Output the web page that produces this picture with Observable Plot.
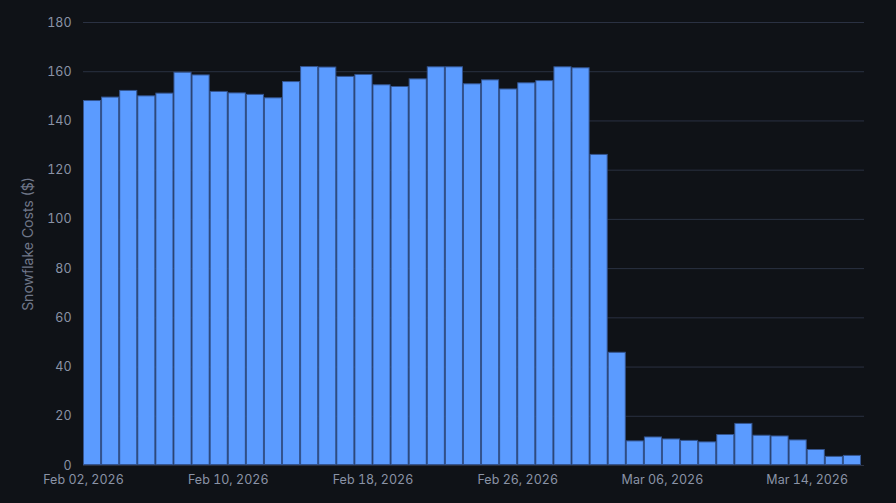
<!DOCTYPE html>
<html>
<head>
<meta charset="utf-8">
<script src="https://cdn.jsdelivr.net/npm/d3@7"></script>
<script src="https://cdn.jsdelivr.net/npm/@observablehq/plot@0.6"></script>
<style>
  html, body { margin: 0; padding: 0; background: #0f1217; }
  #chart { width: 896px; height: 503px; }
</style>
</head>
<body>
<div id="chart"></div>
<script>
const dates = [
  "2026-02-02","2026-02-03","2026-02-04","2026-02-05","2026-02-06","2026-02-07","2026-02-08",
  "2026-02-09","2026-02-10","2026-02-11","2026-02-12","2026-02-13","2026-02-14","2026-02-15",
  "2026-02-16","2026-02-17","2026-02-18","2026-02-19","2026-02-20","2026-02-21","2026-02-22",
  "2026-02-23","2026-02-24","2026-02-25","2026-02-26","2026-02-27","2026-02-28","2026-03-01",
  "2026-03-02","2026-03-03","2026-03-04","2026-03-05","2026-03-06","2026-03-07","2026-03-08",
  "2026-03-09","2026-03-10","2026-03-11","2026-03-12","2026-03-13","2026-03-14","2026-03-15",
  "2026-03-16"
];
const costs = [
  148.3, 149.7, 152.4, 150.2, 151.3, 159.8, 158.7,
  152.0, 151.4, 150.8, 149.4, 156.0, 162.1, 161.9,
  158.1, 158.9, 154.7, 154.0, 157.1, 162.0, 162.0,
  155.1, 156.7, 153.0, 155.5, 156.4, 162.0, 161.6,
  126.4, 46.0, 10.0, 11.6, 10.8, 10.2, 9.6,
  12.6, 17.1, 12.3, 12.0, 10.4, 6.5, 3.7,
  4.1
];
const tickDates = ["2026-02-02","2026-02-10","2026-02-18","2026-02-26","2026-03-06","2026-03-14"];
const yTicks = [0, 20, 40, 60, 80, 100, 120, 140, 160, 180];
const yLabel = "Snowflake Costs ($)";

const data = dates.map((d, i) => ({date: new Date(d + "T00:00:00Z"), cost: costs[i]}));

const chart = Plot.plot({
  width: 896,
  height: 503,
  marginLeft: 83,
  marginRight: 32,
  marginTop: 22,
  marginBottom: 38,
  style: {
    background: "#0f1217",
    color: "#8a93a6",
    fontFamily: "Inter, 'Noto Sans', sans-serif",
    fontSize: "12.5px"
  },
  x: {
    type: "utc",
    domain: [new Date("2026-02-02T00:00:00Z"), new Date("2026-03-17T04:00:00Z")],
    ticks: tickDates.map(d => new Date(d + "T00:00:00Z")),
    tickFormat: d3.utcFormat("%b %d, %Y"),
    tickSize: 0,
    tickPadding: 10,
    label: null
  },
  y: {
    domain: [0, 180],
    ticks: yTicks,
    tickSize: 0,
    tickPadding: 12,
    label: null,
    grid: false
  },
  marks: [
    Plot.ruleY(yTicks, {stroke: "#2a3142", strokeWidth: 1}),
    Plot.rectY(data, {
      x: "date",
      interval: "day",
      y: "cost",
      fill: "#5b9bff",
      stroke: "#34548f",
      strokeWidth: 1,
      inset: 0.5
    }),
    Plot.text([yLabel], {
      frameAnchor: "left",
      textAnchor: "middle",
      rotate: -90,
      dx: -55,
      fontSize: 14,
      fill: "#6f7789"
    })
  ]
});
document.getElementById("chart").appendChild(chart);
</script>
</body>
</html>
